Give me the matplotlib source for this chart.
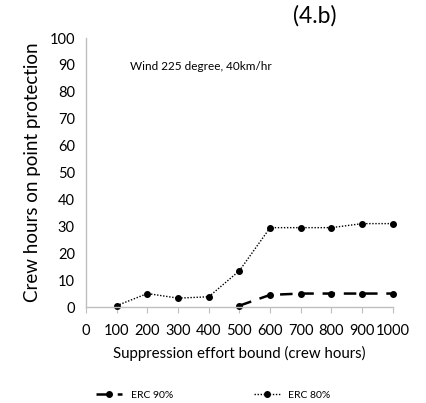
import numpy as np
import matplotlib.pyplot as plt

plt.rcParams['font.family'] = ['Lato', 'DejaVu Sans']

effort = [100, 200, 300, 400, 500, 600, 700, 800, 900, 1000]
erc80 = [0.5, 5.0, 3.3, 3.8, 13.5, 29.5, 29.5, 29.5, 31.0, 31.0]
effort90 = [500, 600, 700, 800, 900, 1000]
erc90 = [0.5, 4.5, 5.0, 5.0, 5.0, 5.0]

fig = plt.figure(figsize=(4.27, 4.03), dpi=100)
ax = fig.add_axes([0.2014, 0.2382, 0.7186, 0.6675])

l90, = ax.plot(effort90, erc90, color='black', linestyle=(0, (5, 3.5)), linewidth=1.8,
               marker='o', markersize=4, label='ERC 90%')
l80, = ax.plot(effort, erc80, color='black', linestyle=(0, (1, 1.2)), linewidth=1.0,
               marker='o', markersize=4, label='ERC 80%')

ax.set_xlim(0, 1000)
ax.set_ylim(0, 100)
ax.set_xticks(range(0, 1001, 100))
ax.set_yticks(range(0, 101, 10))
ax.tick_params(axis='x', direction='out', length=4, color='#bfbfbf', labelsize=10.5, pad=8)
ax.tick_params(axis='y', length=0, labelsize=10.5, pad=8)
for s in ['top', 'right']:
    ax.spines[s].set_visible(False)
for s in ['left', 'bottom']:
    ax.spines[s].set_color('#bfbfbf')
    ax.spines[s].set_linewidth(1.0)
for l in (l90, l80):
    l.set_clip_on(False)

ax.set_xlabel('Suppression effort bound (crew hours)', fontsize=10.8, labelpad=6)
ax.set_ylabel('Crew hours on point protection', fontsize=13.5, labelpad=6)

ax.text(0.145, 0.88, 'Wind 225 degree, 40km/hr', transform=ax.transAxes, fontsize=8.5)
fig.text(0.738, 0.96, '(4.b)', fontsize=16.5, ha='center', va='center')

fig.legend(handles=[l90, l80], loc='center', bbox_to_anchor=(0.5, 0.02), ncol=2,
           frameon=False, fontsize=7.5, handlelength=2.5, handletextpad=0.8,
           columnspacing=7.8, borderaxespad=0, borderpad=0)

fig.savefig('out.png', dpi=100)
